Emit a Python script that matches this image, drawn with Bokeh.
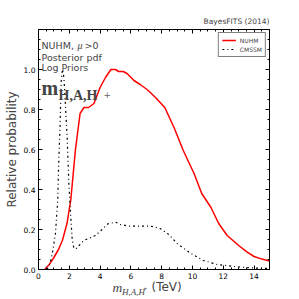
import math
from bokeh.plotting import figure
from bokeh.layouts import column
from bokeh.models import (Label, Legend, LegendItem, LinearAxis, SingleIntervalTicker,
                          PrintfTickFormatter, CustomJSTickFormatter)
from bokeh.embed import file_html
from bokeh.resources import INLINE

# ---- data ----
nuhm_x = [0.4, 0.7, 1.0, 1.3, 1.55, 1.85, 2.1, 2.4, 2.7, 2.95, 3.25, 3.6, 4.0, 4.35, 4.7,
          5.0, 5.2, 5.5, 5.75, 6.2, 6.6, 7.05, 7.6, 8.2, 8.8, 9.4, 10.1, 10.6, 11.2, 11.7,
          12.25, 13.0, 13.55, 14.0, 14.5, 15.0]
nuhm_y = [0.0, 0.025, 0.06, 0.1, 0.145, 0.23, 0.35, 0.6, 0.78, 0.81, 0.81, 0.83, 0.91, 0.96, 1.0,
          1.0, 0.99, 0.99, 0.98, 0.945, 0.925, 0.9, 0.86, 0.81, 0.71, 0.595, 0.48, 0.38, 0.31, 0.23,
          0.17, 0.12, 0.087, 0.065, 0.052, 0.042]

cmssm_x = [0.55, 0.75, 0.9, 1.1, 1.25, 1.3, 1.4, 1.48, 1.56, 1.65, 1.75, 1.86, 1.97, 2.08, 2.19,
           2.3, 2.45, 2.94, 3.7, 4.13, 4.5, 5.0, 5.32, 5.87, 7.27, 7.9, 8.46, 9.0, 9.9, 10.7,
           11.6, 12.7, 13.8, 15.0]
cmssm_y = [0.0, 0.03, 0.08, 0.18, 0.345, 0.5, 0.72, 0.95, 1.0, 0.96, 0.82, 0.66, 0.43, 0.28, 0.15,
           0.105, 0.105, 0.145, 0.17, 0.2, 0.228, 0.237, 0.225, 0.217, 0.217, 0.205, 0.175, 0.13, 0.08, 0.045,
           0.025, 0.015, 0.008, 0.005]

series_names = ["NUHM", "CMSSM"]
info_lines = ["Posterior pdf", "Log Priors"]
y_label = "Relative probability"
title_text = "BayesFITS (2014)"

FONT = "DejaVu Sans"
SERIF = "Liberation Serif"
FW, FH = 231, 240  # plot frame size in px

def strip_fig(h):
    s = figure(width=291, height=h, x_range=(0, FW), y_range=(0, h),
               output_backend="svg", toolbar_location=None,
               x_axis_location=None, y_axis_location=None,
               min_border_left=0, min_border_right=0, min_border_top=0, min_border_bottom=0)
    s.outline_line_color = None
    s.xgrid.visible = False
    s.ygrid.visible = False
    return s

# ---- top strip: title (frame aligned with the main frame) ----
top_strip = strip_fig(27)
top_strip.add_layout(Label(x=FW, y=1.5, text=title_text, text_align="right",
                           text_font=FONT, text_font_size="7.5px"))

# ---- main plot ----
p = figure(frame_width=FW, frame_height=FH, x_range=(0, 15), y_range=(0, 1.2),
           output_backend="svg", toolbar_location=None,
           min_border_left=38, min_border_right=22, min_border_top=2, min_border_bottom=12)
p.xgrid.visible = False
p.ygrid.visible = False
p.outline_line_color = "black"
p.outline_line_width = 1
p.background_fill_color = "white"
p.border_fill_color = "white"

def style_axis(ax, show_labels=True):
    ax.major_tick_in = 4
    ax.major_tick_out = 0
    ax.minor_tick_in = 2
    ax.minor_tick_out = 0
    ax.major_tick_line_color = "black"
    ax.minor_tick_line_color = "black"
    ax.axis_line_color = "black"
    ax.major_label_standoff = 3
    ax.major_label_text_font = FONT
    ax.major_label_text_color = "black"
    ax.major_label_text_font_size = "7.5px"
    if not show_labels:
        ax.major_label_standoff = 0
        ax.formatter = CustomJSTickFormatter(code="return ''")

p.xaxis.ticker = SingleIntervalTicker(interval=2, num_minor_ticks=4)
p.yaxis.ticker = SingleIntervalTicker(interval=0.2, num_minor_ticks=4)
p.yaxis.formatter = PrintfTickFormatter(format="%.1f")
style_axis(p.xaxis[0])
style_axis(p.yaxis[0])
p.yaxis.axis_label = y_label
p.yaxis.axis_label_text_font = FONT
p.yaxis.axis_label_text_font_size = "12px"
p.yaxis.axis_label_text_font_style = "normal"
p.yaxis.axis_label_standoff = 2

top = LinearAxis(ticker=SingleIntervalTicker(interval=2, num_minor_ticks=4))
style_axis(top, False)
p.add_layout(top, "above")
right = LinearAxis(ticker=SingleIntervalTicker(interval=0.2, num_minor_ticks=4))
style_axis(right, False)
p.add_layout(right, "right")

r1 = p.line(nuhm_x, nuhm_y, line_color="red", line_width=1.5)
r2 = p.line(cmssm_x, cmssm_y, line_color="black", line_width=1.2, line_dash="2 3 1 3")

legend = Legend(items=[LegendItem(label=series_names[0], renderers=[r1]),
                       LegendItem(label=series_names[1], renderers=[r2])],
                location="top_right", border_line_color="black", border_line_width=1,
                background_fill_color="white", background_fill_alpha=1,
                label_text_font=FONT, label_text_font_size="6px",
                glyph_width=14, glyph_height=8, label_height=8, label_standoff=4,
                spacing=1, padding=3, margin=3)
p.add_layout(legend)

# in-frame texts (screen units relative to the frame)
p.add_layout(Label(x=3, y=219, x_units="screen", y_units="screen", text="NUHM,",
                   text_font=FONT, text_font_size="9.5px"))
p.add_layout(Label(x=39, y=219, x_units="screen", y_units="screen", text="\u03bc",
                   text_font=SERIF, text_font_size="10px", text_font_style="italic"))
p.add_layout(Label(x=46, y=219, x_units="screen", y_units="screen", text=">0",
                   text_font=FONT, text_font_size="9.5px"))
for t, yy in zip(info_lines, [207, 197]):
    p.add_layout(Label(x=3, y=yy, x_units="screen", y_units="screen", text=t,
                       text_font=FONT, text_font_size="9.5px"))
p.add_layout(Label(x=3, y=171, x_units="screen", y_units="screen", text="m",
                   text_font=SERIF, text_font_size="20px", text_font_style="bold"))
p.add_layout(Label(x=20, y=167, x_units="screen", y_units="screen", text="H,A,H",
                   text_font=SERIF, text_font_size="14px", text_font_style="bold"))
p.add_layout(Label(x=65, y=172, x_units="screen", y_units="screen", text="+",
                   text_font=FONT, text_font_size="9px", text_color="#666666"))

# ---- bottom strip: x-axis label (x in px from the frame's left edge) ----
bot = strip_fig(18)
bot.add_layout(Label(x=74, y=5, text="m", text_font=SERIF, text_font_size="13.5px",
                     text_font_style="italic"))
bot.add_layout(Label(x=83.5, y=3, text="H,A,H", text_font=SERIF, text_font_size="9px",
                     text_font_style="italic"))
bot.add_layout(Label(x=105, y=9, text="+", text_font=SERIF, text_font_size="6.5px"))
bot.add_layout(Label(x=113, y=5.5, text="(TeV)", text_font=FONT, text_font_size="12px"))

layout = column(top_strip, p, bot, spacing=0)
open("out.html", "w").write(file_html(layout, INLINE))
